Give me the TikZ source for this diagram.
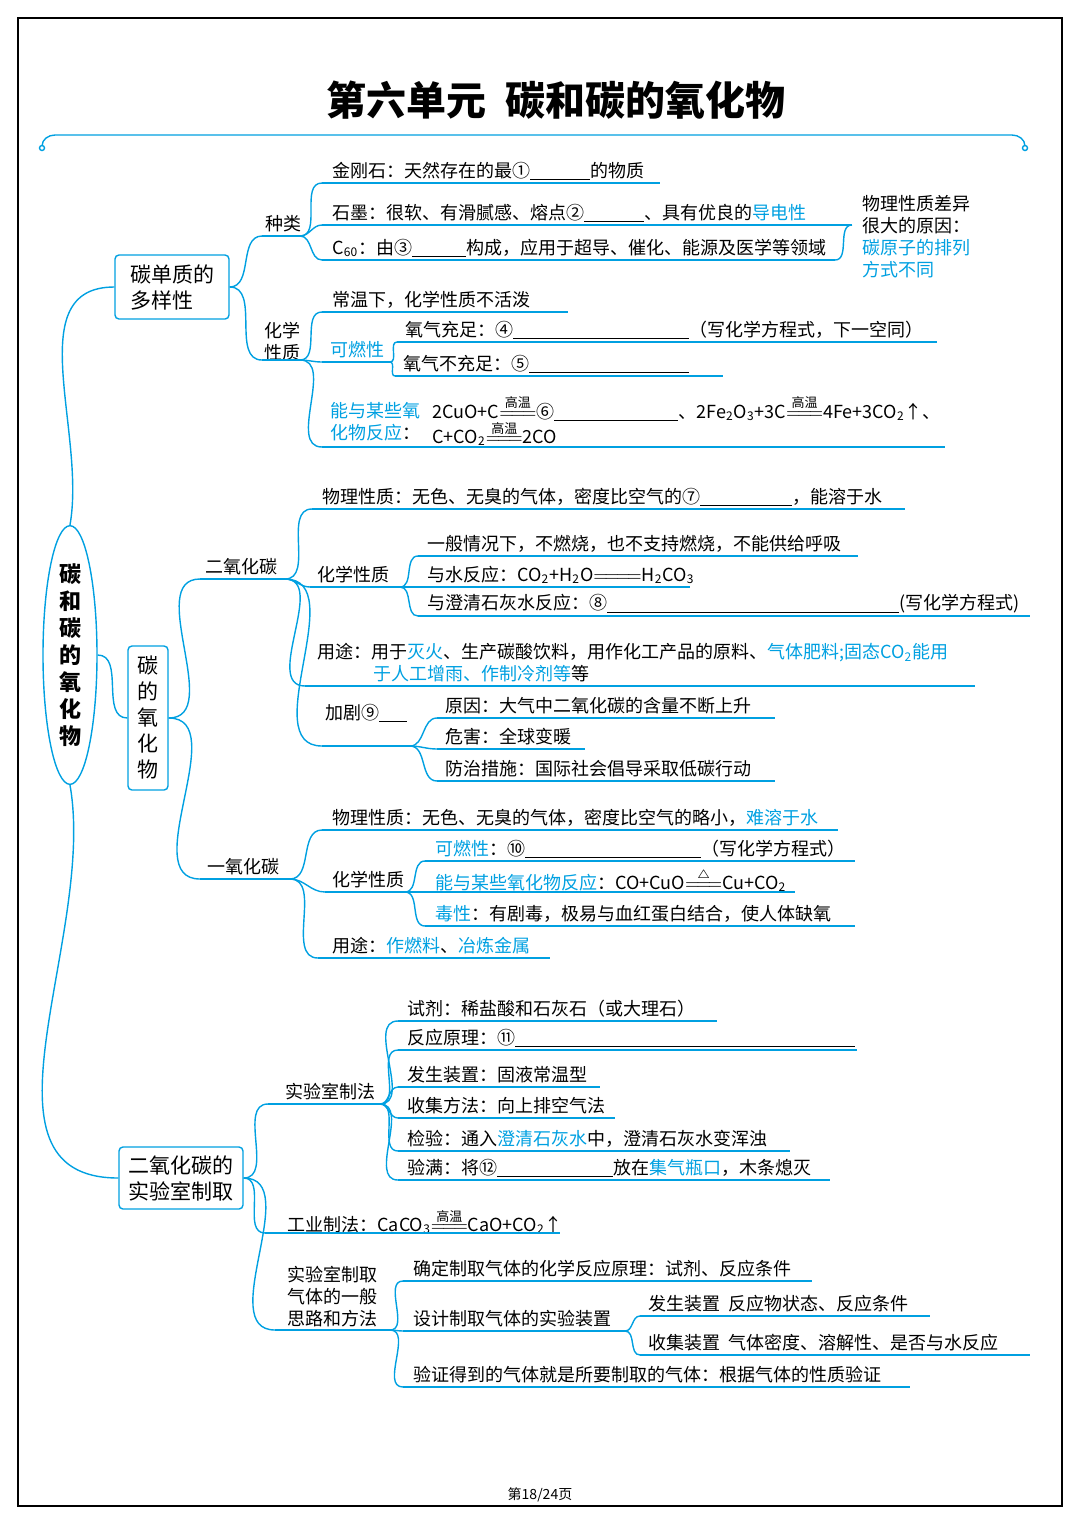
\documentclass[tikz,border=0pt]{standalone}
\usepackage{amsmath}
\usepackage{fontspec}
\setmainfont{Noto Sans CJK SC}
\usetikzlibrary{shapes.geometric}
\definecolor{cy}{RGB}{0,160,225}
\newcommand\hl[1]{\textcolor{cy}{#1}}
\newcommand\bl[1]{\rule[-1.5pt]{#1}{0.5pt}}
\newcommand\gw{\ensuremath{\mathrel{\overset{\text{\fontsize{6.5}{6}\selectfont 高温}}{=\joinrel=\joinrel=}}}}
\newcommand\dt{\ensuremath{\mathrel{\overset{\triangle}{=\joinrel=\joinrel=}}}}
\tikzset{
  lf/.style={inner sep=0pt,anchor=west,font=\fontsize{9}{11}\selectfont},
  ul/.style={draw=cy,line width=0.6pt},
  br/.style={draw=cy,line width=0.7pt},
  bx/.style={draw=cy,line width=0.7pt,rounded corners=2pt,align=left,font=\fontsize{10.5}{13}\selectfont,inner sep=3pt}
}
% leaf: name, text x, text y, line start, line end, text
\newcommand\leaf[6]{%
  \node[lf] (#1) at (#2,#3) {#6};
  \coordinate (#1s) at (#4,#3+12);
  \coordinate (#1e) at (#5,#3+12);
  \draw[ul] (#1s) -- (#1e);}
\begin{document}
\begin{tikzpicture}[x=0.5pt,y=-0.5pt]
\useasboundingbox (0,0) rectangle (1080,1528);
\draw[line width=1.2pt] (18,18) rectangle (1062,1506);
\node[font=\fontsize{20}{24}\selectfont\bfseries] (title) at (556,100) {第六单元\ \ 碳和碳的氧化物};
\draw[br] (42,148) circle (2.5) (1025,148) circle (2.5);
\draw[br] (42,146) to[out=90,in=180] (55,135) -- (1012,135) to[out=0,in=90] (1025,146);
\node[lf,anchor=center,font=\fontsize{7}{8}\selectfont] (page) at (540,1495) {第18/24页};

% root and boxes
\node[draw=cy,line width=0.7pt,ellipse,minimum width=27pt,minimum height=118pt,align=center,
  font=\fontsize{11}{13.5}\selectfont\bfseries,inner sep=0pt] (root) at (70,655) {碳\\和\\碳\\的\\氧\\化\\物};
\node[bx,minimum width=57pt,minimum height=32pt] (b1) at (172,287) {碳单质的\\多样性};
\node[bx,align=center,minimum width=20pt,minimum height=72pt] (b2) at (148,718) {碳\\的\\氧\\化\\物};
\node[bx,minimum width=62pt,minimum height=31pt] (b3) at (181,1178) {二氧化碳的\\实验室制取};
\draw[br] (root.north) to[out=80,in=180] (b1.west);
\draw[br] (root.east) to[out=0,in=180] (b2.west);
\draw[br] (root.south) to[out=-80,in=180] (b3.west);

% carbon elements
\leaf{zl}{265}{224}{262}{300}{种类}
\node[lf,align=center] (hx) at (264,342) {化学\\性质};
\coordinate (hxs) at (262,360); \coordinate (hxe) at (300,360);
\draw[ul] (hxs) -- (hxe);
\draw[br] (b1.east) to[out=0,in=180] (zls);
\draw[br] (b1.east) to[out=0,in=180] (hxs);
\leaf{jgs}{332}{171}{322}{660}{金刚石：天然存在的最①\bl{30pt}的物质}
\leaf{sm}{332}{213}{322}{822}{石墨：很软、有滑腻感、熔点②\bl{30pt}、具有优良的\hl{导电性}}
\leaf{cs}{332}{248}{322}{835}{C\textsubscript{60}：由③\bl{27pt}构成，应用于超导、催化、能源及医学等领域}
\foreach \c in {jgs,sm,cs} \draw[br] (zle) to[out=0,in=180] (\c s);
\coordinate (rb) at (852,225);
\draw[br] (sme) to[out=0,in=180] (rb);
\draw[br] (cse) to[out=0,in=180] (rb);
\node[lf,align=left] (why) at (862,237) {物理性质差异\\很大的原因：\\\hl{碳原子的排列}\\\hl{方式不同}};
\leaf{cw}{332}{300}{322}{568}{常温下，化学性质不活泼}
\leaf{kr}{330}{350}{322}{390}{\hl{可燃性}}
\leaf{o1}{405}{330}{397}{937}{氧气充足：④\bl{88pt}（写化学方程式，下一空同）}
\leaf{o2}{403}{364}{395}{723}{氧气不充足：⑤\bl{80pt}}
\draw[br] (kre) to[out=0,in=180] (o1s);
\draw[br] (kre) to[out=0,in=180] (o2s);
\node[lf,align=left] (yh) at (330,422) {\hl{能与某些氧}\\\hl{化物反应}：};
\coordinate (yhs) at (322,447); \coordinate (yhe) at (945,447);
\draw[ul] (yhs) -- (yhe);
\node[lf] (f1) at (432,408) {2CuO+C\gw⑥\bl{62pt}、2Fe\textsubscript{2}O\textsubscript{3}+3C\gw 4Fe+3CO\textsubscript{2}↑、};
\node[lf] (f2) at (432,433) {C+CO\textsubscript{2}\gw 2CO};
\foreach \c in {cw,kr,yh} \draw[br] (hxe) to[out=0,in=180] (\c s);

% oxides
\leaf{co2}{205}{567}{200}{285}{二氧化碳}
\leaf{co}{207}{867}{200}{290}{一氧化碳}
\draw[br] (b2.east) to[out=0,in=180] (co2s);
\draw[br] (b2.east) to[out=0,in=180] (cos);
\leaf{p1}{322}{497}{312}{905}{物理性质：无色、无臭的气体，密度比空气的⑦\bl{46pt}，能溶于水}
\leaf{c1}{317}{575}{310}{400}{化学性质}
\node[lf,align=left] (u1) at (317,663) {用途：用于\hl{灭火}、生产碳酸饮料，用作化工产品的原料、\hl{气体肥料;固态CO\textsubscript{2}能用}\\\hspace{28pt}\hl{于人工增雨、作制冷剂等}等};
\coordinate (u1s) at (305,686); \coordinate (u1e) at (975,686);
\draw[ul] (u1s) -- (u1e);
\node[lf] (jj) at (325,713) {加剧⑨\bl{14pt}};
\coordinate (jjs) at (322,746); \coordinate (jje) at (410,746);
\draw[ul] (jjs) -- (jje);
\foreach \c in {p1,c1,u1,jj} \draw[br] (co2e) to[out=0,in=180] (\c s);
\leaf{c11}{427}{544}{418}{858}{一般情况下，不燃烧，也不支持燃烧，不能供给呼吸}
\leaf{c12}{427}{575}{418}{690}{与水反应：CO\textsubscript{2}+H\textsubscript{2}O\ensuremath{=\joinrel=\joinrel=\joinrel=}H\textsubscript{2}CO\textsubscript{3}}
\leaf{c13}{427}{604}{418}{1030}{与澄清石灰水反应：⑧\bl{146pt}(写化学方程式)}
\foreach \c in {c11,c12,c13} \draw[br] (c1e) to[out=0,in=180] (\c s);
\leaf{j1}{445}{706}{437}{775}{原因：大气中二氧化碳的含量不断上升}
\leaf{j2}{445}{737}{437}{585}{危害：全球变暖}
\leaf{j3}{445}{769}{437}{775}{防治措施：国际社会倡导采取低碳行动}
\foreach \c in {j1,j2,j3} \draw[br] (jje) to[out=0,in=180] (\c s);
\leaf{p2}{332}{818}{322}{838}{物理性质：无色、无臭的气体，密度比空气的略小，\hl{难溶于水}}
\leaf{c2}{332}{880}{325}{405}{化学性质}
\leaf{u2}{332}{946}{318}{550}{用途：\hl{作燃料}、\hl{冶炼金属}}
\foreach \c in {p2,c2,u2} \draw[br] (coe) to[out=0,in=180] (\c s);
\leaf{c21}{435}{849}{425}{855}{\hl{可燃性}：⑩\bl{88pt}（写化学方程式）}
\leaf{c22}{435}{880}{425}{795}{\hl{能与某些氧化物反应}：CO+CuO\dt Cu+CO\textsubscript{2}}
\leaf{c23}{435}{914}{425}{855}{\hl{毒性}：有剧毒，极易与血红蛋白结合，使人体缺氧}
\foreach \c in {c21,c22,c23} \draw[br] (c2e) to[out=0,in=180] (\c s);

% laboratory preparation
\leaf{lab}{285}{1092}{268}{380}{实验室制法}
\leaf{ind}{287}{1221}{265}{560}{工业制法：CaCO\textsubscript{3}\gw CaO+CO\textsubscript{2}↑}
\node[lf,align=left] (gen) at (287,1297) {实验室制取\\气体的一般\\思路和方法};
\coordinate (gens) at (275,1330); \coordinate (gene) at (390,1330);
\draw[ul] (gens) -- (gene);
\foreach \c in {lab,ind,gen} \draw[br] (b3.east) to[out=0,in=180] (\c s);
\leaf{l1}{407}{1009}{398}{717}{试剂：稀盐酸和石灰石（或大理石）}
\leaf{l2}{407}{1038}{398}{857}{反应原理：⑪\bl{170pt}}
\leaf{l3}{407}{1075}{398}{600}{发生装置：固液常温型}
\leaf{l4}{407}{1106}{398}{615}{收集方法：向上排空气法}
\leaf{l5}{407}{1139}{398}{790}{检验：通入\hl{澄清石灰水}中，澄清石灰水变浑浊}
\leaf{l6}{407}{1168}{398}{830}{验满：将⑫\bl{58pt}放在\hl{集气瓶口}，木条熄灭}
\foreach \c in {l1,l2,l3,l4,l5,l6} \draw[br] (labe) to[out=0,in=180] (\c s);
\leaf{g1}{413}{1269}{403}{812}{确定制取气体的化学反应原理：试剂、反应条件}
\leaf{g2}{413}{1319}{403}{625}{设计制取气体的实验装置}
\leaf{g3}{413}{1375}{403}{910}{验证得到的气体就是所要制取的气体：根据气体的性质验证}
\foreach \c in {g1,g2,g3} \draw[br] (gene) to[out=0,in=180] (\c s);
\leaf{d1}{648}{1304}{640}{930}{发生装置\ \ 反应物状态、反应条件}
\leaf{d2}{648}{1343}{640}{1030}{收集装置\ \ 气体密度、溶解性、是否与水反应}
\foreach \c in {d1,d2} \draw[br] (g2e) to[out=0,in=180] (\c s);
\end{tikzpicture}
\end{document}
